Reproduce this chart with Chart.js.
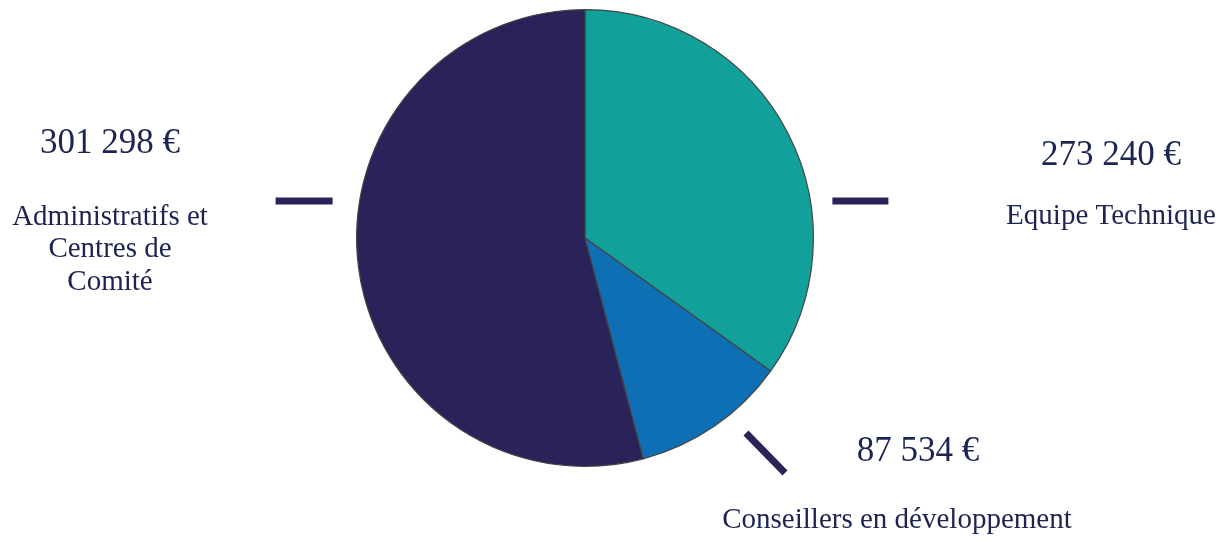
<!DOCTYPE html>
<html lang="fr">
<head>
<meta charset="utf-8">
<title>Répartition</title>
<script src="https://cdn.jsdelivr.net/npm/chart.js@4/dist/chart.umd.min.js"></script>
<style>
    html, body { margin: 0; padding: 0; background: #ffffff; }
    #wrap { width: 1227px; height: 540px; position: relative; }
</style>
</head>
<body>
<div id="wrap"><canvas id="pieChart"></canvas></div>
<script>
// slices, clockwise from 12 o'clock
const categories = ['Equipe Technique', 'Conseillers en développement', 'Administratifs et Centres de Comité'];
const amounts = [273240, 87534, 301298];
// share of the circle each slice takes in the picture (percent)
const sliceShares = [34.9, 11.0, 54.1];
const sliceColors = ['#12A19A', '#0F6FB5', '#29235A'];

const textColor = '#1B2452';
const markColor = '#29235A';

function formatEuro(v) {
    return String(v).replace(/\B(?=(\d{3})+(?!\d))/g, ' ') + ' €';
}

// labels and small leader marks, placed relative to the pie centre / radius
const labelPlugin = {
    id: 'sideLabels',
    afterDraw(chart) {
        const arc = chart.getDatasetMeta(0).data[0];
        const cx = arc.x, cy = arc.y, r = arc.outerRadius;
        const ctx = chart.ctx;
        ctx.save();

        // leader marks
        ctx.strokeStyle = markColor;
        ctx.lineWidth = 7;
        ctx.lineCap = 'butt';
        ctx.beginPath();
        ctx.moveTo(cx + r + 19, cy - 37);
        ctx.lineTo(cx + r + 75, cy - 37);
        ctx.moveTo(cx - r - 24, cy - 37);
        ctx.lineTo(cx - r - 81, cy - 37);
        ctx.moveTo(cx + 161, cy + 195);
        ctx.lineTo(cx + 200, cy + 235);
        ctx.stroke();

        ctx.fillStyle = textColor;
        ctx.textAlign = 'center';
        ctx.textBaseline = 'middle';

        const bigFont = '35px "Liberation Serif", serif';
        const smallFont = '29px "Liberation Serif", serif';

        // Equipe Technique
        ctx.font = bigFont;
        ctx.fillText(formatEuro(amounts[0]), cx + 526, cy - 82);
        ctx.font = smallFont;
        ctx.fillText(categories[0], cx + 526, cy - 22);

        // Conseillers en développement
        ctx.font = bigFont;
        ctx.fillText(formatEuro(amounts[1]), cx + 333, cy + 214);
        ctx.font = smallFont;
        ctx.fillText(categories[1], cx + 312, cy + 282);

        // Administratifs et Centres de Comité
        ctx.font = bigFont;
        ctx.fillText(formatEuro(amounts[2]), cx - 475, cy - 94);
        ctx.font = smallFont;
        ['Administratifs et', 'Centres de', 'Comité'].forEach((line, i) => {
            ctx.fillText(line, cx - 475, cy - 21 + i * 32.5);
        });

        ctx.restore();
    }
};

const ctx = document.getElementById('pieChart').getContext('2d');

window.pieChart = new Chart(ctx, {
    type: 'pie',
    data: {
        labels: categories,
        datasets: [{
            data: sliceShares,
            backgroundColor: sliceColors,
            borderColor: '#444444',
            borderWidth: 1.2
        }]
    },
    options: {
        responsive: true,
        maintainAspectRatio: false,
        animation: false,
        layout: {
            padding: { top: 9, bottom: 73, left: 300, right: 357 }
        },
        plugins: {
            legend: { display: false },
            tooltip: { enabled: false }
        }
    },
    plugins: [labelPlugin]
});
</script>
</body>
</html>
